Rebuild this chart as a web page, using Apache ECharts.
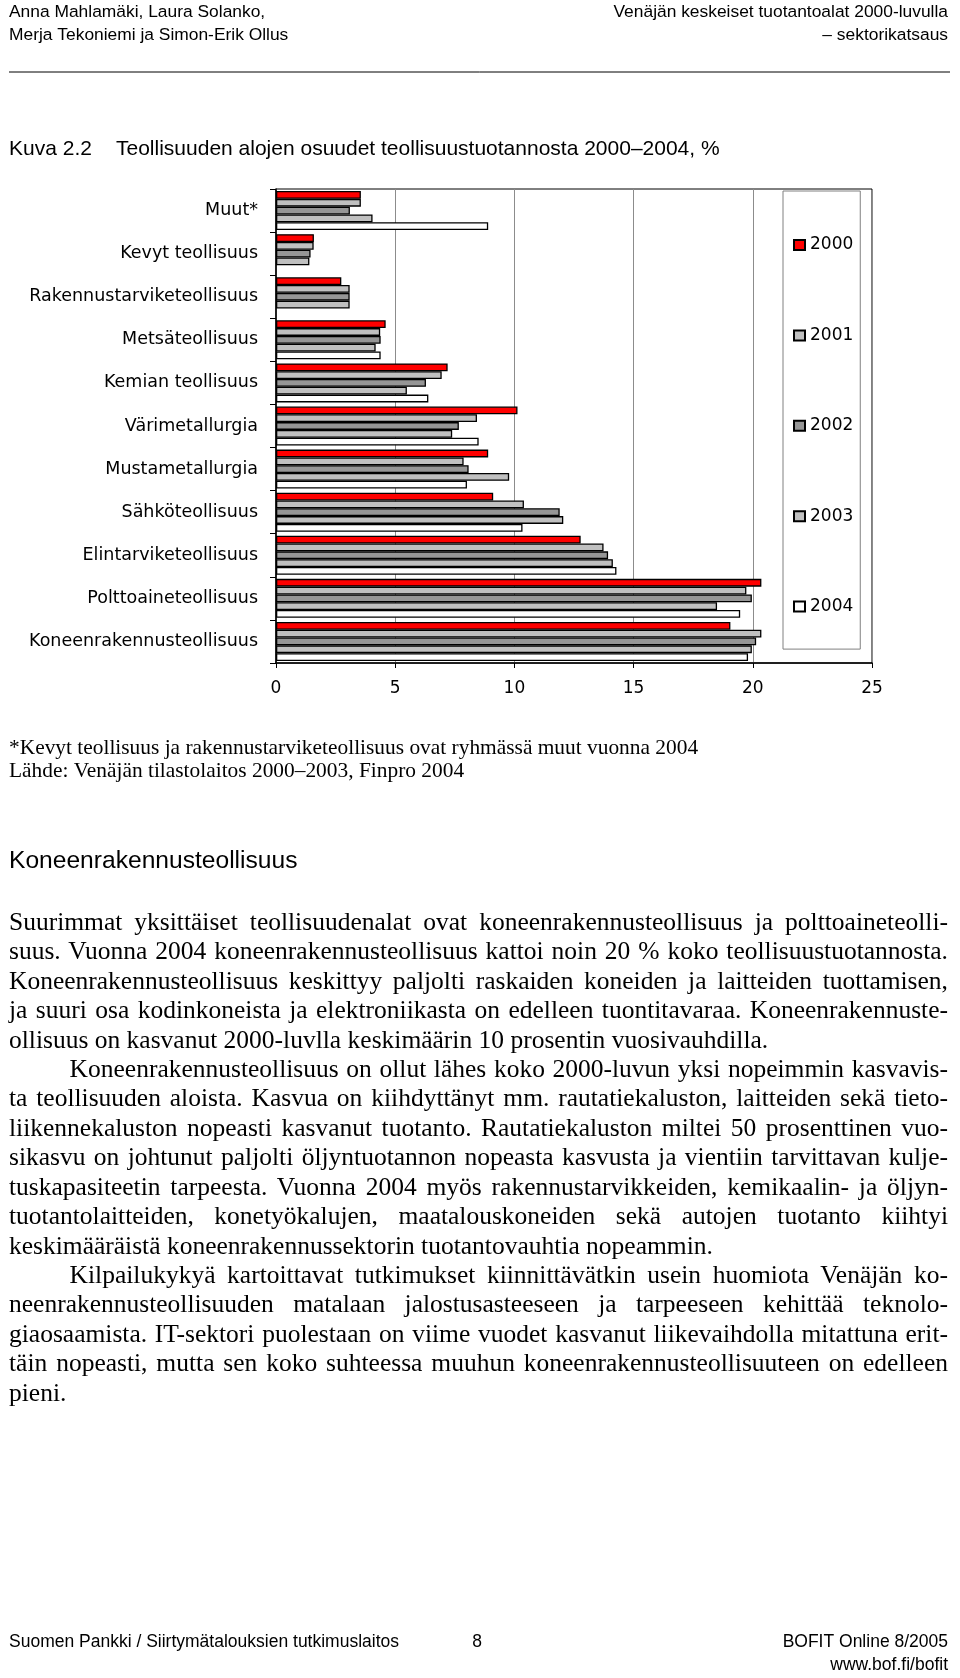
<!DOCTYPE html>
<html>
<head>
<meta charset="utf-8">
<script src="https://cdn.jsdelivr.net/npm/echarts@6/dist/echarts.min.js"></script>
<style>
html,body{margin:0;padding:0;background:#fff;}
#page{position:relative;width:960px;height:1678px;overflow:hidden;}
#chart{position:absolute;left:0;top:0;width:960px;height:1678px;}
#body{position:absolute;left:9px;top:906.8px;width:939px;font-family:'Liberation Serif','Times New Roman',serif;font-size:25.5px;line-height:29.43px;color:#000;}
#body div{white-space:nowrap;}
#body .j{text-align:justify;text-align-last:justify;}
#body .i{text-indent:60.6px;}
</style>
</head>
<body>
<div id="page">
<div id="chart"></div>
<div id="body">
<div class="j">Suurimmat yksittäiset teollisuudenalat ovat koneenrakennusteollisuus ja polttoaineteolli-</div>
<div class="j">suus. Vuonna 2004 koneenrakennusteollisuus kattoi noin 20 % koko teollisuustuotannosta.</div>
<div class="j">Koneenrakennusteollisuus keskittyy paljolti raskaiden koneiden ja laitteiden tuottamisen,</div>
<div class="j">ja suuri osa kodinkoneista ja elektroniikasta on edelleen tuontitavaraa. Koneenrakennuste-</div>
<div>ollisuus on kasvanut 2000-luvlla keskimäärin 10 prosentin vuosivauhdilla.</div>
<div class="j i">Koneenrakennusteollisuus on ollut lähes koko 2000-luvun yksi nopeimmin kasvavis-</div>
<div class="j">ta teollisuuden aloista. Kasvua on kiihdyttänyt mm. rautatiekaluston, laitteiden sekä tieto-</div>
<div class="j">liikennekaluston nopeasti kasvanut tuotanto. Rautatiekaluston miltei 50 prosenttinen vuo-</div>
<div class="j">sikasvu on johtunut paljolti öljyntuotannon nopeasta kasvusta ja vientiin tarvittavan kulje-</div>
<div class="j">tuskapasiteetin tarpeesta. Vuonna 2004 myös rakennustarvikkeiden, kemikaalin- ja öljyn-</div>
<div class="j">tuotantolaitteiden, konetyökalujen, maatalouskoneiden sekä autojen tuotanto kiihtyi</div>
<div>keskimääräistä koneenrakennussektorin tuotantovauhtia nopeammin.</div>
<div class="j i">Kilpailukykyä kartoittavat tutkimukset kiinnittävätkin usein huomiota Venäjän ko-</div>
<div class="j">neenrakennusteollisuuden matalaan jalostusasteeseen ja tarpeeseen kehittää teknolo-</div>
<div class="j">giaosaamista. IT-sektori puolestaan on viime vuodet kasvanut liikevaihdolla mitattuna erit-</div>
<div class="j">täin nopeasti, mutta sen koko suhteessa muuhun koneenrakennusteollisuuteen on edelleen</div>
<div>pieni.</div>
</div>
</div>
<script>
// ---- Data ----
const categories = [
  'Muut*',
  'Kevyt teollisuus',
  'Rakennustarviketeollisuus',
  'Metsäteollisuus',
  'Kemian teollisuus',
  'Värimetallurgia',
  'Mustametallurgia',
  'Sähköteollisuus',
  'Elintarviketeollisuus',
  'Polttoaineteollisuus',
  'Koneenrakennusteollisuus'
];
const years = ['2000', '2001', '2002', '2003', '2004'];
const v2000 = [3.56, 1.59, 2.74, 4.60, 7.20, 10.13, 8.90, 9.11, 12.78, 20.36, 19.06];
const v2001 = [3.56, 1.58, 3.09, 4.37, 6.95, 8.43, 7.87, 10.40, 13.74, 19.73, 20.36];
const v2002 = [3.10, 1.45, 3.09, 4.39, 6.29, 7.67, 8.08, 11.90, 13.93, 19.96, 20.14];
const v2003 = [4.05, 1.40, 3.09, 4.18, 5.49, 7.39, 9.78, 12.05, 14.13, 18.50, 19.96];
const v2004 = [8.90, null, null, 4.39, 6.39, 8.50, 8.01, 10.34, 14.28, 19.47, 19.80];
const xMin = 0, xMax = 25, xStep = 5;

// ---- Styles ----
const seriesValues = [v2000, v2001, v2002, v2003, v2004];
const colors = ['#FF0000', '#C0C0C0', '#969696', '#C0C0C0', '#FFFFFF'];
const sans = "'Liberation Sans', Arial, sans-serif";
const serif = "'Liberation Serif', 'Times New Roman', serif";
const chartFont = "'DejaVu Sans', sans-serif";

function txt(text, x, y, size, family, align) {
  return {
    type: 'text', x: x, y: y, silent: true,
    style: { text: text, fontSize: size, fontFamily: family, fill: '#000', align: align || 'left', verticalAlign: 'middle' }
  };
}

const chart = echarts.init(document.getElementById('chart'), null, { renderer: 'canvas' });
chart.setOption({
  animation: false,
  backgroundColor: '#fff',
  textStyle: { fontFamily: chartFont },
  grid: { left: 276, top: 189, width: 596, height: 474, show: true, borderColor: '#000', borderWidth: 1, backgroundColor: 'transparent', containLabel: false },
  legend: {
    orient: 'vertical', left: 783, top: 191, data: years, icon: 'rect',
    itemWidth: 11, itemHeight: 10, itemGap: 72.4, padding: [45, 7, 33.5, 10],
    borderColor: '#808080', borderWidth: 1, backgroundColor: '#fff',
    selectedMode: false,
    textStyle: { fontSize: 17, lineHeight: 18, color: '#000', fontFamily: chartFont }
  },
  xAxis: {
    type: 'value', min: xMin, max: xMax, interval: xStep,
    axisLine: { show: true, lineStyle: { color: '#000', width: 1.5 } },
    axisTick: { show: true, length: 5, lineStyle: { color: '#000' } },
    axisLabel: { fontSize: 17, color: '#000', margin: 17, fontFamily: chartFont },
    splitLine: { show: true, lineStyle: { color: '#8c8c8c', width: 1 } }
  },
  yAxis: {
    type: 'category', inverse: true, data: categories,
    axisLine: { show: true, lineStyle: { color: '#000', width: 1.5 } },
    axisTick: { show: true, length: 6, lineStyle: { color: '#000' } },
    axisLabel: { interval: 0, fontSize: 17.5, color: '#000', margin: 18, fontFamily: chartFont },
    splitLine: { show: false }
  },
  series: years.map(function (y, i) {
    return {
      name: y, type: 'bar', data: seriesValues[i],
      barWidth: 7.8, barGap: '0%',
      itemStyle: { color: colors[i], borderColor: '#000', borderWidth: 1.3 },
      emphasis: { disabled: true }
    };
  }),
  graphic: [
    txt('Anna Mahlamäki, Laura Solanko,', 9, 12, 17.4, sans),
    txt('Merja Tekoniemi ja Simon-Erik Ollus', 9, 35, 17.4, sans),
    txt('Venäjän keskeiset tuotantoalat 2000-luvulla', 948, 12, 17.4, sans, 'right'),
    txt('– sektorikatsaus', 948, 35, 17.4, sans, 'right'),
    { type: 'line', silent: true, shape: { x1: 9, y1: 72, x2: 950, y2: 72 }, style: { stroke: '#000', lineWidth: 1 } },
    txt('Kuva 2.2', 9, 149, 21, sans),
    txt('Teollisuuden alojen osuudet teollisuustuotannosta 2000–2004, %', 116, 149, 21, sans),
    txt('*Kevyt teollisuus ja rakennustarviketeollisuus ovat ryhmässä muut vuonna 2004', 9, 748, 21.4, serif),
    txt('Lähde: Venäjän tilastolaitos 2000–2003, Finpro 2004', 9, 771, 21.4, serif),
    txt('Koneenrakennusteollisuus', 9, 861, 24.6, sans),
    txt('Suomen Pankki / Siirtymätalouksien tutkimuslaitos', 9, 1642, 17.5, sans),
    txt('8', 477, 1642, 17.5, sans, 'center'),
    txt('BOFIT Online 8/2005', 948, 1642, 17.5, sans, 'right'),
    txt('www.bof.fi/bofit', 948, 1665, 17.5, sans, 'right')
  ]
});
</script>
</body>
</html>
